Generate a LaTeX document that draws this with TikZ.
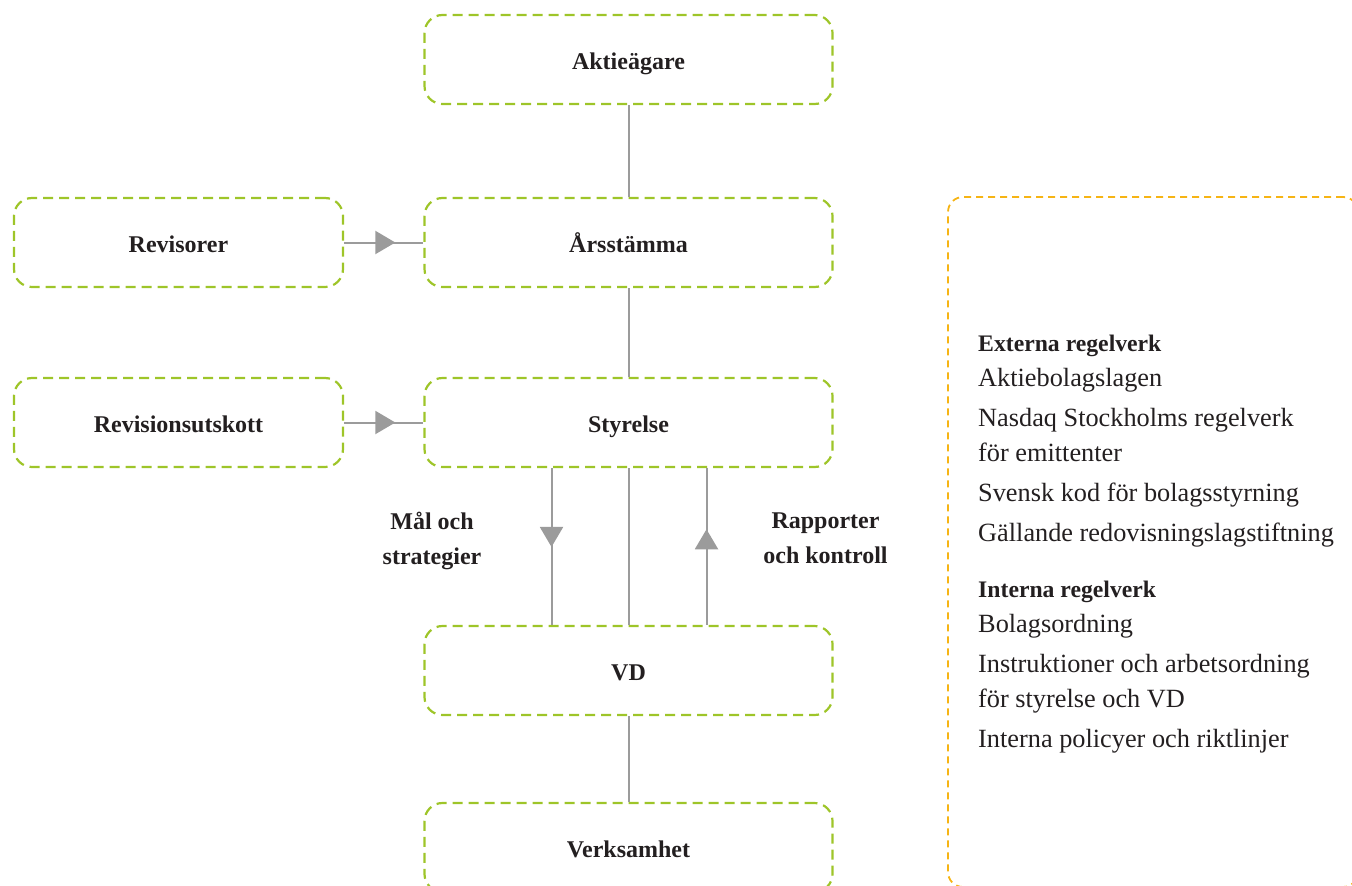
\documentclass[tikz,border=0pt]{standalone}
\usepackage{fontspec}
\setmainfont{Liberation Serif}
\usetikzlibrary{arrows.meta,decorations.markings}
\definecolor{boxgreen}{RGB}{158,197,41}
\definecolor{boxorange}{RGB}{246,180,20}
\definecolor{linegray}{RGB}{155,155,155}
\definecolor{txt}{RGB}{35,31,32}
\newcommand\bxfont{\fontsize{24}{28}\selectfont\bfseries}
\newcommand\hdfont{\fontsize{23.7}{28}\selectfont\bfseries}
\newcommand\rgfont{\fontsize{26.3}{30}\selectfont}
\begin{document}
\begin{tikzpicture}[x=1pt,y=-1pt,
  gbox/.style={draw=boxgreen, line width=2.2pt, dash pattern=on 10pt off 6pt,
    rounded corners=18pt, minimum height=89pt, inner sep=0pt, font=\bxfont,
    text=txt, text height=19pt, text depth=0pt},
  wide/.style={minimum width=408pt},
  narrow/.style={minimum width=329pt},
  obox/.style={draw=boxorange, line width=1.8pt, dash pattern=on 7pt off 5pt,
    rounded corners=15pt, minimum width=410pt, minimum height=690pt, inner sep=0pt},
  conn/.style={draw=linegray, line width=2pt},
  midarrow/.style={postaction={decorate}, decoration={markings,
    mark=at position #1 with {\arrow{Triangle[length=20pt,width=23pt]}}}},
  lbl/.style={font=\bxfont, text=txt, anchor=base, inner sep=0pt},
  hd/.style={font=\hdfont, text=txt, anchor=base west, inner sep=0pt},
  rg/.style={font=\rgfont, text=txt, anchor=base west, inner sep=0pt}
]
\useasboundingbox (0,0) rectangle (1352,886);
\clip (0,0) rectangle (1352,886);

% boxes
\node[gbox, wide] (akt) at (628.5,59.5) {Aktieägare};
\node[gbox, wide] (ars) at (628.5,242.5) {Årsstämma};
\node[gbox, narrow] (rev) at (178.5,242.5) {Revisorer};
\node[gbox, wide] (sty) at (628.5,422.5) {Styrelse};
\node[gbox, narrow] (revu) at (178.5,422.5) {Revisionsutskott};
\node[gbox, wide] (vd) at (628.5,670.5) {VD};
\node[gbox, wide] (verk) at (628.5,847.5) {Verksamhet};
\node[obox] (panel) at (1153,542) {};

% connectors
\draw[conn] (akt.south) -- (ars.north);
\draw[conn] (ars.south) -- (sty.north);
\draw[conn, midarrow=0.646] (rev.east) -- (ars.west);
\draw[conn, midarrow=0.646] (revu.east) -- (sty.west);
\draw[conn, midarrow=0.503] ([xshift=-77pt]sty.south) -- ([xshift=-77pt]vd.north);
\draw[conn] (sty.south) -- (vd.north);
\draw[conn, midarrow=0.61] ([xshift=78pt]vd.north) -- ([xshift=78pt]sty.south);
\draw[conn] (vd.south) -- (verk.north);

% side labels
\node[lbl] (mal1) at (432,529) {Mål och};
\node[lbl] (mal2) at (432,564) {strategier};
\node[lbl] (rap1) at (825.5,528) {Rapporter};
\node[lbl] (rap2) at (825.5,563) {och kontroll};

% rules panel text
\node[hd] (t1) at (978,351.5) {Externa regelverk};
\node[rg] (t2) at (978,386.5) {Aktiebolagslagen};
\node[rg] (t3) at (978,426.5) {Nasdaq Stockholms regelverk};
\node[rg] (t4) at (978,461.5) {för emittenter};
\node[rg] (t5) at (978,501.5) {Svensk kod för bolagsstyrning};
\node[rg] (t6) at (978,541.5) {Gällande redovisningslagstiftning};
\node[hd] (t7) at (978,597) {Interna regelverk};
\node[rg] (t8) at (978,632) {Bolagsordning};
\node[rg] (t9) at (978,672) {Instruktioner och arbetsordning};
\node[rg] (t10) at (978,707) {för styrelse och VD};
\node[rg] (t11) at (978,747) {Interna policyer och riktlinjer};
\end{tikzpicture}
\end{document}
